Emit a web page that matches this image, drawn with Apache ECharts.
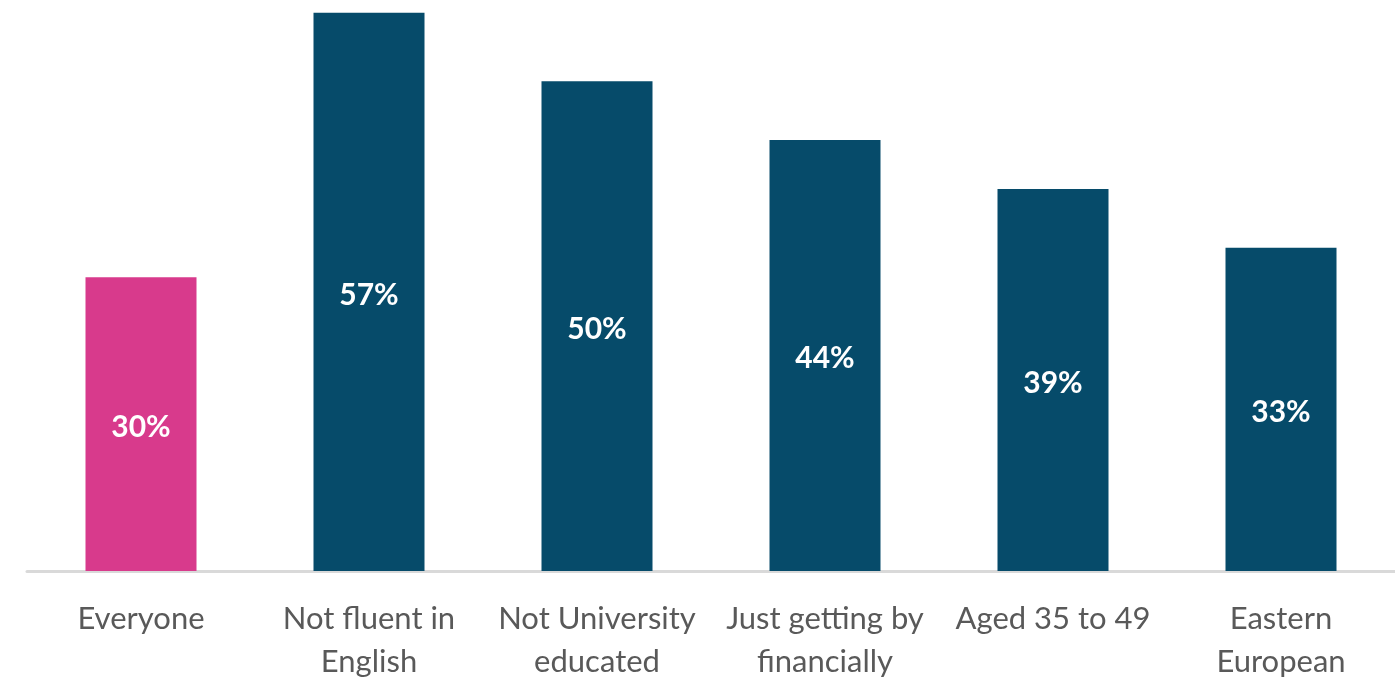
<!DOCTYPE html>
<html><head><meta charset="utf-8">
<script src="https://cdn.jsdelivr.net/npm/echarts@6/dist/echarts.min.js"></script>
<style>html,body{margin:0;padding:0;background:#fff}#c{width:1395px;height:684px}</style>
</head><body><div id="c"></div>
<script>
const categories = ['Everyone', 'Not fluent in\nEnglish', 'Not University\neducated', 'Just getting by\nfinancially', 'Aged 35 to 49', 'Eastern\nEuropean'];
const values = [30, 57, 50, 44, 39, 33];
const barColors = ['#D83A8C', '#064B6A', '#064B6A', '#064B6A', '#064B6A', '#064B6A'];

const chart = echarts.init(document.getElementById('c'));
chart.setOption({
  animation: false,
  grid: {left: 27, right: 0, top: 0, bottom: 113},
  xAxis: {
    type: 'category', data: categories,
    axisLine: {lineStyle: {color: '#D9D9D9', width: 3}},
    axisTick: {show: false},
    axisLabel: {color: '#595959', fontFamily: 'Lato', fontSize: 31, lineHeight: 43, margin: 26, interval: 0}
  },
  yAxis: {type: 'value', min: 0, max: 58.3, show: false, splitLine: {show: false}},
  series: [{
    type: 'bar', barWidth: 111,
    data: values.map((v, i) => ({value: v, itemStyle: {color: barColors[i]}})),
    label: {show: true, position: 'inside', offset: [0, 3], color: '#fff', fontWeight: 'bold', fontFamily: 'Lato', fontSize: 30, formatter: p => p.value + '%'}
  }]
});
</script></body></html>
